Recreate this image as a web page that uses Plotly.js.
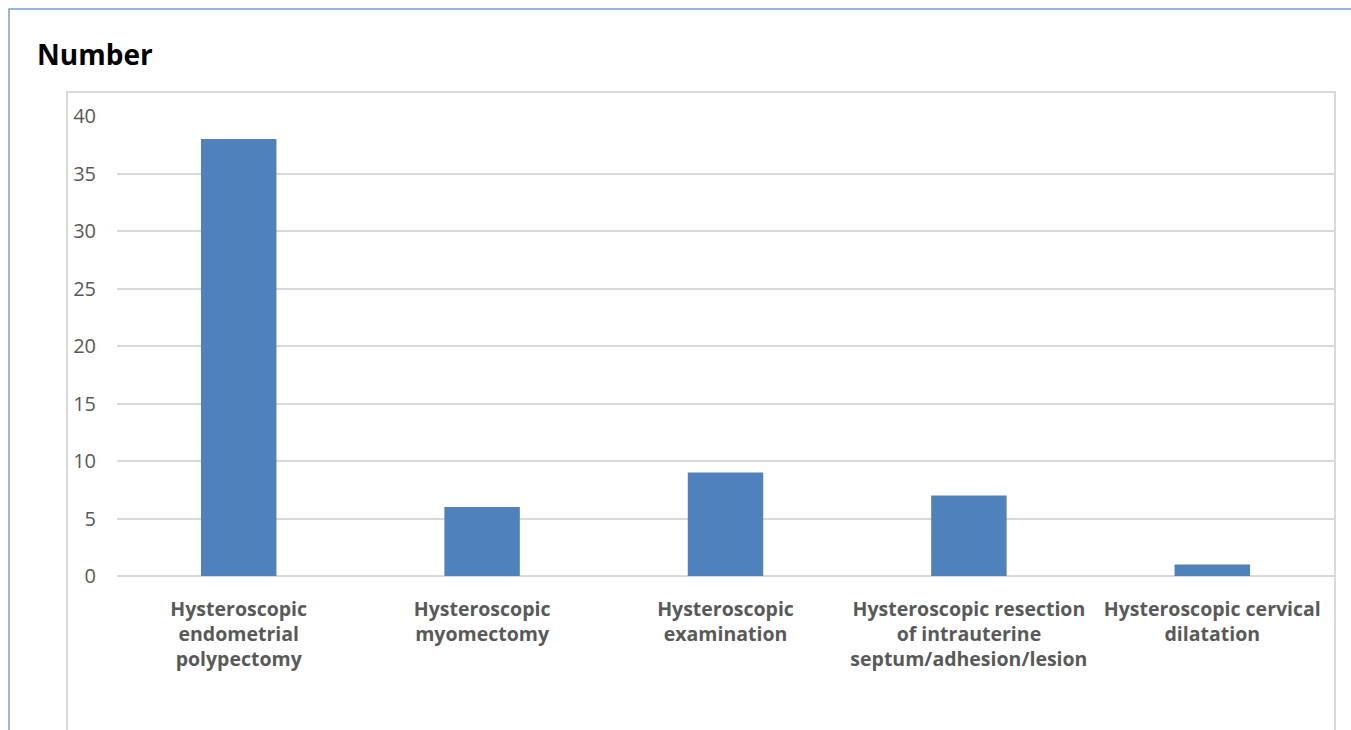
<!DOCTYPE html>
<html>
<head>
<meta charset="utf-8">
<script src="https://cdn.plot.ly/plotly-3.0.1.min.js"></script>
<style>
html,body{margin:0;padding:0;background:#fff;}
#chart{width:1351px;height:730px;}
</style>
</head>
<body>
<div id="chart"></div>
<script>
const categories = [
  "Hysteroscopic<br>endometrial<br>polypectomy",
  "Hysteroscopic<br>myomectomy",
  "Hysteroscopic<br>examination",
  "Hysteroscopic resection<br>of intrauterine<br>septum/adhesion/lesion",
  "Hysteroscopic cervical<br>dilatation"
];
const counts = [38, 6, 9, 7, 1];
const yTicks = [0, 5, 10, 15, 20, 25, 30, 35, 40];

const W = 1351, H = 730;
const L = 117, R = 17, T = 116, B = 154;
const pw = W - L - R, ph = H - T - B;
const px = v => (v - L) / pw;
const py = v => (H - B - v) / ph;

const trace = {
  type: 'bar',
  x: categories,
  y: counts,
  marker: {color: '#4f81bd'},
  hoverinfo: 'x+y'
};

const layout = {
  width: W, height: H,
  margin: {l: L, r: R, t: T, b: B, pad: 0},
  paper_bgcolor: '#ffffff',
  plot_bgcolor: '#ffffff',
  showlegend: false,
  bargap: 0.69,
  title: {
    text: '<b>Number</b>',
    x: 37 / W, xref: 'container', xanchor: 'left',
    y: 1 - 55 / H, yref: 'container', yanchor: 'middle',
    font: {family: 'Open Sans, sans-serif', size: 28, color: '#000000'}
  },
  xaxis: {
    type: 'category',
    showgrid: false,
    zeroline: false,
    showline: false,
    ticks: '',
    ticklabelstandoff: 19,
    tickfont: {family: 'Open Sans, sans-serif', size: 19.5, color: '#595959', weight: 'bold'},
    fixedrange: true
  },
  yaxis: {
    range: [0, 40],
    tickvals: yTicks,
    ticktext: yTicks.map(String),
    showgrid: true,
    gridcolor: '#d9d9d9',
    gridwidth: 2,
    zeroline: true,
    zerolinecolor: '#d9d9d9',
    zerolinewidth: 2,
    showline: false,
    ticks: '',
    ticklabelstandoff: 20,
    tickfont: {family: 'Open Sans, sans-serif', size: 20, color: '#595959'},
    fixedrange: true
  },
  shapes: [
    {type: 'rect', xref: 'paper', yref: 'paper',
     x0: px(67), x1: px(1335), y0: py(740), y1: py(92),
     line: {color: '#d9d9d9', width: 2}, fillcolor: 'rgba(0,0,0,0)', layer: 'below'},
    {type: 'rect', xref: 'paper', yref: 'paper',
     x0: px(9), x1: px(1360), y0: py(740), y1: py(9),
     line: {color: '#7f9fcf', width: 1.5}, fillcolor: 'rgba(0,0,0,0)', layer: 'below'}
  ]
};

Plotly.newPlot('chart', [trace], layout, {displayModeBar: false, staticPlot: false});
</script>
</body>
</html>
